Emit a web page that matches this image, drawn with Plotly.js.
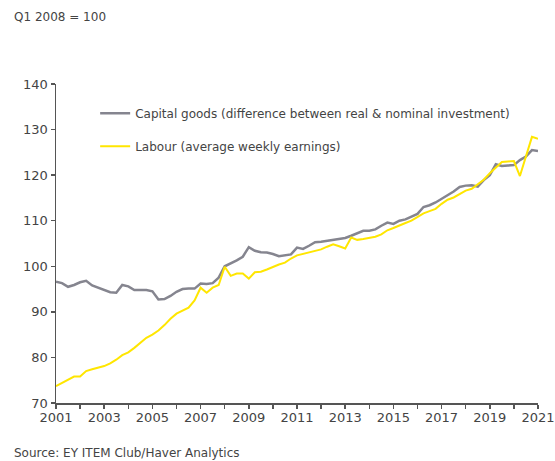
<!DOCTYPE html>
<html>
<head>
<meta charset="utf-8">
<script src="https://cdn.plot.ly/plotly-3.0.1.min.js"></script>
<style>
html,body{margin:0;padding:0;background:#fff;}
#chart{width:555px;height:461px;}
</style>
</head>
<body>
<div id="chart"></div>
<script>
// Quarterly periods, Q1 2001 .. Q1 2021
const years = [2001,2002,2003,2004,2005,2006,2007,2008,2009,2010,2011,2012,2013,2014,2015,2016,2017,2018,2019,2020,2021];
const quarterOffsets = [0, 0.25, 0.5, 0.75];

// Capital goods (difference between real & nominal investment), index Q1 2008 = 100
const capitalGoods = [
  96.6, 96.3, 95.5, 95.9,   // 2001
  96.5, 96.8, 95.8, 95.3,   // 2002
  94.9, 94.3, 94.2, 95.9,   // 2003
  95.6, 94.8, 94.8, 94.8,   // 2004
  94.5, 92.7, 92.8, 93.5,   // 2005
  94.4, 95.0, 95.1, 95.1,   // 2006
  96.2, 96.1, 96.3, 97.5,   // 2007
  100.0, 100.6, 101.3, 102.1, // 2008
  104.2, 103.4, 103.1, 103.0, // 2009
  102.7, 102.2, 102.4, 102.6, // 2010
  104.1, 103.8, 104.5, 105.3, // 2011
  105.4, 105.6, 105.8, 106.0, // 2012
  106.2, 106.7, 107.3, 107.8, // 2013
  107.8, 108.1, 108.9, 109.6, // 2014
  109.3, 110.0, 110.3, 110.9, // 2015
  111.5, 113.0, 113.4, 114.0, // 2016
  114.8, 115.7, 116.4, 117.4, // 2017
  117.7, 117.8, 117.5, 118.9, // 2018
  120.0, 122.4, 122.0, 122.1, // 2019
  122.2, 123.3, 124.1, 125.5, // 2020
  125.3                       // 2021 Q1
];

// Labour (average weekly earnings), index Q1 2008 = 100
const labour = [
  73.7, 74.4, 75.0, 75.8,   // 2001
  75.8, 77.0, 77.4, 77.7,   // 2002
  78.1, 78.7, 79.5, 80.5,   // 2003
  81.1, 82.1, 83.3, 84.3,   // 2004
  85.0, 85.9, 87.1, 88.5,   // 2005
  89.6, 90.3, 90.9, 92.5,   // 2006
  95.3, 94.2, 95.3, 95.9,   // 2007
  99.9, 97.9, 98.4, 98.4,   // 2008
  97.3, 98.7, 98.8, 99.3,   // 2009
  99.9, 100.4, 100.8, 101.7, // 2010
  102.4, 102.7, 103.0, 103.3, // 2011
  103.7, 104.3, 104.8, 104.4, // 2012
  103.9, 106.3, 105.8, 106.0, // 2013
  106.2, 106.5, 107.0, 107.9, // 2014
  108.4, 109.0, 109.5, 110.0, // 2015
  110.9, 111.6, 112.1, 112.6, // 2016
  113.7, 114.6, 115.1, 115.9, // 2017
  116.6, 117.0, 118.1, 119.0, // 2018
  120.4, 121.7, 122.9, 123.0, // 2019
  123.1, 119.8, 124.0, 128.4, // 2020
  128.0                       // 2021 Q1
];

// Axis ticks and labels
const xTickVals = years;
const xTickText = years.map(y => (y % 2 === 1 ? String(y) : ""));
const yTickVals = [70, 80, 90, 100, 110, 120, 130, 140];

const seriesNames = [
  "Capital goods (difference between real & nominal investment)",
  "Labour (average weekly earnings)"
];
const subtitleText = "Q1 2008 = 100";
const sourceText = "Source: EY ITEM Club/Haver Analytics";

// Build time axis from periods
const periods = [];
for (const y of years) {
  for (const q of quarterOffsets) {
    if (periods.length < capitalGoods.length) periods.push(y + q);
  }
}

const FONT = "DejaVu Sans, Verdana, sans-serif";
const TEXT = "#444444";

const traces = [
  {
    x: periods, y: capitalGoods, type: "scatter", mode: "lines",
    name: seriesNames[0], legendgroup: "a",
    line: {color: "#85858f", width: 2.5}
  },
  {
    x: periods, y: labour, type: "scatter", mode: "lines",
    name: seriesNames[1], legendgroup: "b",
    line: {color: "#ffe600", width: 2}
  }
];

const plotW = 555 - 56 - 17, plotH = 461 - 84 - 58;

const layout = {
  width: 555, height: 461,
  margin: {l: 56, r: 17, t: 84, b: 58},
  paper_bgcolor: "#ffffff", plot_bgcolor: "#ffffff",
  font: {family: FONT, size: 12, color: TEXT},
  showlegend: true,
  legend: {
    x: 0.075 + 3 / plotW, y: 0.985 - 10 / plotH, xanchor: "left", yanchor: "top",
    bgcolor: "rgba(0,0,0,0)", borderwidth: 0,
    font: {family: FONT, size: 12, color: TEXT},
    traceorder: "grouped", tracegroupgap: 14
  },
  xaxis: {
    range: [2001, 2021], tickvals: xTickVals, ticktext: xTickText,
    showgrid: false, zeroline: false, showline: true,
    linecolor: "#555555", linewidth: 1.5,
    ticks: "outside", ticklen: 4, tickwidth: 1.5, tickcolor: "#555555",
    ticklabelstandoff: -2,
    tickfont: {family: FONT, size: 13, color: TEXT}, fixedrange: true
  },
  yaxis: {
    range: [70, 140], tickvals: yTickVals,
    showgrid: false, zeroline: false, showline: true,
    linecolor: "#555555", linewidth: 1.5,
    ticks: "outside", ticklen: 4, tickwidth: 1.5, tickcolor: "#555555",
    tickfont: {family: FONT, size: 13, color: TEXT}, fixedrange: true
  },
  annotations: [
    {text: subtitleText, xref: "paper", yref: "paper",
     x: (12 - 56) / plotW, y: 1 + (84 - 17) / plotH,
     xanchor: "left", yanchor: "middle", showarrow: false,
     font: {family: FONT, size: 12, color: TEXT}},
    {text: sourceText, xref: "paper", yref: "paper",
     x: (12 - 56) / plotW, y: -(453 - 403) / plotH,
     xanchor: "left", yanchor: "middle", showarrow: false,
     font: {family: FONT, size: 12, color: TEXT}}
  ]
};

Plotly.newPlot("chart", traces, layout, {displayModeBar: false, staticPlot: true});
</script>
</body>
</html>
